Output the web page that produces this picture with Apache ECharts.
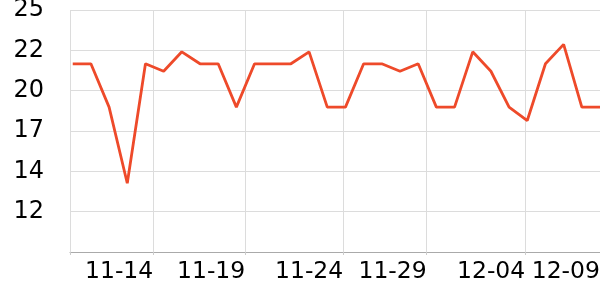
<!DOCTYPE html>
<html>
<head>
<meta charset="utf-8">
<script src="https://cdn.jsdelivr.net/npm/echarts@6/dist/echarts.min.js"></script>
<style>html,body{margin:0;padding:0;background:#fff}#c{width:600px;height:300px}</style>
</head>
<body>
<div id="c"></div>
<script>
var dates = ['11-10','11-11','11-12','11-13','11-14','11-15','11-16','11-17','11-18','11-19',
             '11-20','11-21','11-22','11-23','11-24','11-25','11-26','11-27','11-28','11-29',
             '11-30','12-01','12-02','12-03','12-04','12-05','12-06','12-07','12-08','12-09'];
var values = [21.5, 21.5, 18.6, 13.5, 21.5, 21.0, 22.3, 21.5, 21.5, 18.6,
              21.5, 21.5, 21.5, 22.3, 18.6, 18.6, 21.5, 21.5, 21.0, 21.5,
              18.6, 18.6, 22.3, 21.0, 18.6, 17.7, 21.5, 22.8, 18.6, 18.6];
var xMin = -0.15;
var xTickPos = [-0.15, 4.43, 9.49, 14.88, 19.47, 24.89];
var xLabelPos = [4.43, 9.49, 14.88, 19.47, 24.89, 29];
var xLabelText = ['11-14', '11-19', '11-24', '11-29', '12-04', '12-09'];
var yTickPos = [11.6, 14.3, 17.0, 19.7, 22.4, 25.1];
var yLabelText = ['12', '14', '17', '20', '22', '25'];

var seriesData = values.map(function (v, i) { return [i, v]; });
var chart = echarts.init(document.getElementById('c'), null, {renderer: 'canvas'});
chart.setOption({
  animation: false,
  grid: {left: 70, right: 0, top: 10, bottom: 48, outerBoundsMode: 'none', containLabel: false},
  xAxis: {
    type: 'value', min: xMin, max: dates.length - 1,
    axisLine: {show: true, lineStyle: {color: '#aaa', width: 1}},
    axisTick: {show: true, length: 3, customValues: xTickPos, lineStyle: {color: '#ccc'}},
    splitLine: {show: true, lineStyle: {color: '#dcdcdc', width: 1}},
    axisLabel: {
      customValues: xLabelPos, align: 'right', margin: 8,
      fontFamily: 'DejaVu Sans', fontSize: 23.5, color: '#000',
      formatter: function (v) { var k = xLabelPos.indexOf(v); return k >= 0 ? xLabelText[k] : ''; }
    }
  },
  yAxis: {
    type: 'value', min: 8.9, max: 25.1,
    axisLine: {show: false},
    axisTick: {show: false, customValues: yTickPos},
    splitLine: {show: true, lineStyle: {color: '#dcdcdc', width: 1}},
    axisLabel: {
      customValues: yTickPos, margin: 26,
      fontFamily: 'DejaVu Sans', fontSize: 24, color: '#000',
      formatter: function (v) { var k = yTickPos.indexOf(v); return k >= 0 ? yLabelText[k] : ''; }
    }
  },
  series: [{
    type: 'line', data: seriesData, symbol: 'none',
    lineStyle: {color: '#ee4a2a', width: 2.8}
  }]
});
</script>
</body>
</html>
